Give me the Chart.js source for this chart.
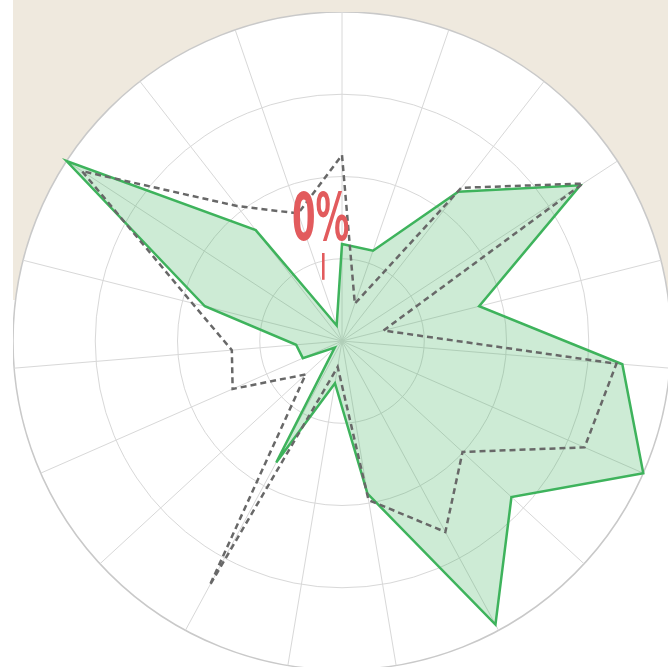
<!DOCTYPE html>
<html>
<head>
<meta charset="utf-8">
<script src="https://cdn.jsdelivr.net/npm/chart.js@4.4.1/dist/chart.umd.min.js"></script>
<style>
  html, body { margin: 0; padding: 0; background: #fff; width: 668px; height: 667px; overflow: hidden; }
  #band { position: absolute; left: 13px; top: 0; width: 655px; height: 300px; background: #efe9de; }
  #wrap { position: absolute; left: 13px; top: 12px; width: 658px; height: 658px; }
  .note { position: absolute; color: #e25b5d; font-family: 'DejaVu Sans Condensed', 'DejaVu Sans', sans-serif; font-weight: bold; line-height: 1; transform-origin: 0 0; white-space: nowrap; }
  #pct { left: 292px; top: 185px; font-size: 66px; transform: scaleX(0.57); }
  #bar { left: 319px; top: 251px; font-size: 26px; }
</style>
</head>
<body>
<div id="band"></div>
<div id="wrap"><canvas id="chart" width="658" height="658"></canvas></div>
<div class="note" id="pct">0%</div>
<div class="note" id="bar">|</div>
<script>
// 19 spokes, clockwise from the top
const categories = ['1', '2', '3', '4', '5', '6', '7', '8', '9', '10',
  '11', '12', '13', '14', '15', '16', '17', '18', '19'];

const greenValues = [0.295, 0.29, 0.575, 0.865, 0.43, 0.855, 1.0, 0.70, 0.98, 0.47,
  0.13, 0.42, 0.03, 0.13, 0.14, 0.43, 1.0, 0.427, 0.05];

const dashedValues = [0.565, 0.12, 0.59, 0.875, 0.13, 0.837, 0.805, 0.498, 0.66, 0.49,
  0.08, 0.845, 0.15, 0.363, 0.336, 0.47, 0.944, 0.52, 0.41];

const ringTicks = [0, 0.25, 0.5, 0.75, 1];

// white disc behind the grid
const discPlugin = {
  id: 'disc',
  beforeDraw(chart) {
    const s = chart.scales.r;
    const ctx = chart.ctx;
    ctx.save();
    ctx.beginPath();
    ctx.arc(s.xCenter, s.yCenter, s.drawingArea, 0, Math.PI * 2);
    ctx.fillStyle = '#ffffff';
    ctx.fill();
    ctx.restore();
  }
};

new Chart(document.getElementById('chart'), {
  type: 'radar',
  data: {
    labels: categories,
    datasets: [
      {
        data: dashedValues,
        fill: false,
        borderColor: '#686868',
        borderWidth: 2.5,
        borderDash: [6, 4],
        pointRadius: 0,
        tension: 0
      },
      {
        data: greenValues,
        fill: true,
        backgroundColor: 'rgba(62, 178, 92, 0.26)',
        borderColor: '#3eb35c',
        borderWidth: 2.5,
        pointRadius: 0,
        tension: 0
      }
    ]
  },
  options: {
    responsive: false,
    animation: false,
    events: [],
    plugins: { legend: { display: false }, tooltip: { enabled: false } },
    scales: {
      r: {
        min: 0,
        max: 1,
        afterBuildTicks: (scale) => {
          scale.ticks = ringTicks.map(v => ({ value: v }));
        },
        ticks: { display: false },
        pointLabels: { display: false },
        grid: {
          circular: true,
          color: (c) => c.index === ringTicks.length - 1 ? '#c9c9c9' : '#d8d8d8',
          lineWidth: (c) => c.index === ringTicks.length - 1 ? 1.5 : 1
        },
        angleLines: { color: '#d8d8d8', lineWidth: 1 }
      }
    }
  },
  plugins: [discPlugin]
});
</script>
</body>
</html>
